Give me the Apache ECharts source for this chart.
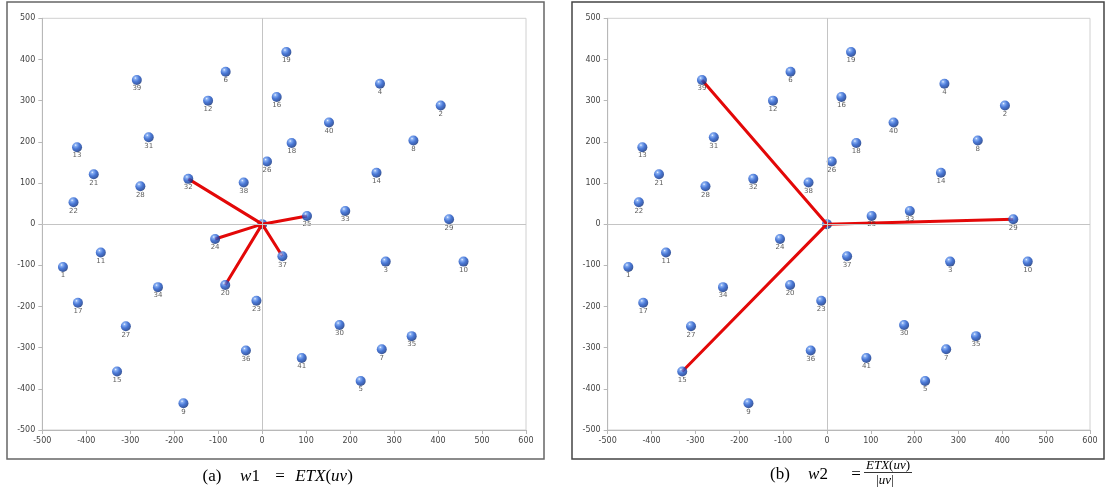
<!DOCTYPE html>
<html>
<head>
<meta charset="utf-8">
<script src="https://cdn.jsdelivr.net/npm/echarts@6/dist/echarts.min.js"></script>
<style>html,body{margin:0;padding:0;background:#fff}#c{width:1106px;height:494px}</style>
</head>
<body>
<div id="c"></div>
<script>
// ---- data ----
const nodeIds = [1,2,3,4,5,6,7,8,9,10,11,12,13,14,15,16,17,18,19,20,21,22,23,24,25,26,27,28,29,30,31,32,33,34,35,36,37,38,39,40,41];
const nodeX = [-453,406,281,268,224,-83,272,344,-179,458,-367,-123,-421,260,-330,33,-419,67,55,-84,-383,-429,-13,-107,102,11,-310,-277,425,176,-258,-168,189,-237,340,-37,46,-42,-285,152,90];
const nodeY = [-104,288,-91,341,-381,370,-304,203,-435,-91,-69,300,187,125,-358,309,-191,197,418,-148,121,53,-186,-36,20,152,-248,92,12,-245,211,110,32,-153,-272,-307,-78,101,350,247,-325];
const centerNode = [0, 0];
const edgesA = [32, 24, 20, 37, 25];   // panel (a) w1 = ETX(uv)
const edgesB = [39, 15, 29];           // panel (b) w2 = ETX(uv)/|uv|
const xTicks = [-500,-400,-300,-200,-100,0,100,200,300,400,500,600];
const yTicks = [-500,-400,-300,-200,-100,0,100,200,300,400,500];

// ---- build ----
const nodes = nodeIds.map((id, i) => ({ value: [nodeX[i], nodeY[i]], name: String(id) }));
function edgeData(list) {
  const d = [];
  list.forEach(id => {
    const i = nodeIds.indexOf(id);
    d.push(centerNode.slice());
    d.push([nodeX[i], nodeY[i]]);
  });
  return d;
}
const sphere = {
  type: 'radial', x: 0.36, y: 0.3, r: 0.75,
  colorStops: [
    { offset: 0, color: '#eef4ff' },
    { offset: 0.16, color: '#6d9df0' },
    { offset: 0.5, color: '#1d57cc' },
    { offset: 0.85, color: '#0c3591' },
    { offset: 1, color: '#08245f' }
  ]
};
const axisCommon = {
  type: 'value', interval: 100,
  axisLine: { show: true, onZero: false, lineStyle: { color: '#b8b8b8', width: 1 } },
  axisTick: { show: true, length: 4, lineStyle: { color: '#b8b8b8' } },
  splitLine: { show: false },
  axisLabel: { fontFamily: 'DejaVu Sans', fontSize: 8, color: '#444' }
};
function xAx(gi) {
  return Object.assign({}, axisCommon, { gridIndex: gi, min: xTicks[0], max: xTicks[xTicks.length-1],
    axisLabel: Object.assign({}, axisCommon.axisLabel, { margin: 7 }) });
}
function yAx(gi) {
  return Object.assign({}, axisCommon, { gridIndex: gi, min: yTicks[0], max: yTicks[yTicks.length-1],
    axisLabel: Object.assign({}, axisCommon.axisLabel, { margin: 7 }) });
}
function panelSeries(gi, edges) {
  return [
    {
      type: 'scatter', xAxisIndex: gi, yAxisIndex: gi, z: 1,
      data: [centerNode], symbol: 'circle', symbolSize: 10,
      itemStyle: { color: sphere }, silent: true,
      markLine: {
        silent: true, symbol: 'none', animation: false,
        label: { show: false },
        lineStyle: { color: '#c4c4c4', width: 1, type: 'solid' },
        data: [{ xAxis: 0 }, { yAxis: 0 }]
      }
    },
    {
      type: 'line', xAxisIndex: gi, yAxisIndex: gi, z: 2,
      data: edgeData(edges), showSymbol: false, symbol: 'none',
      lineStyle: { color: '#e30808', width: 3 }, silent: true, animation: false
    },
    {
      type: 'scatter', xAxisIndex: gi, yAxisIndex: gi, z: 3,
      data: nodes, symbol: 'circle', symbolSize: 10,
      itemStyle: { color: sphere },
      label: { show: true, position: 'bottom', distance: 0, formatter: '{b}',
        fontFamily: 'DejaVu Sans', fontSize: 7, color: '#333' },
      animation: false
    }
  ];
}
const serif = 'Liberation Serif';
const rich = {
  n: { fontFamily: serif, fontSize: 17, color: '#000' },
  i: { fontFamily: serif, fontSize: 17, fontStyle: 'italic', color: '#000' },
  sn: { fontFamily: serif, fontSize: 13, color: '#000' },
  si: { fontFamily: serif, fontSize: 13, fontStyle: 'italic', color: '#000' }
};
function cap(x, y, text) {
  return { type: 'text', x: x, y: y, silent: true,
    style: { text: text, rich: rich, align: 'center', verticalAlign: 'middle' } };
}
const option = {
  animation: false,
  backgroundColor: '#fff',
  grid: [
    { left: 42.3, right: 580, top: 18.3, bottom: 64, show: true, borderColor: '#d0d0d0', borderWidth: 1, backgroundColor: 'transparent' },
    { left: 607.7, right: 16, top: 18.3, bottom: 64, show: true, borderColor: '#d0d0d0', borderWidth: 1, backgroundColor: 'transparent' }
  ],
  xAxis: [xAx(0), xAx(1)],
  yAxis: [yAx(0), yAx(1)],
  series: panelSeries(0, edgesA).concat(panelSeries(1, edgesB)),
  graphic: [
    { type: 'rect', shape: { x: 7, y: 2, width: 537, height: 457 }, style: { fill: 'none', stroke: '#666', lineWidth: 1.5 }, silent: true },
    { type: 'rect', shape: { x: 572, y: 2, width: 532, height: 457 }, style: { fill: 'none', stroke: '#444', lineWidth: 1.5 }, silent: true },
    // caption (a)
    cap(212, 476.5, '{n|(a)}'),
    cap(250, 476.5, '{i|w}{n|1}'),
    cap(280, 476.5, '{n|=}'),
    cap(324, 476.5, '{i|ETX}{n|(}{i|uv}{n|)}'),
    // caption (b)
    cap(780, 475, '{n|(b)}'),
    cap(818, 475, '{i|w}{n|2}'),
    cap(856, 475, '{n|=}'),
    cap(888, 466, '{si|ETX}{sn|(}{si|uv}{sn|)}'),
    { type: 'line', shape: { x1: 864, y1: 472.5, x2: 912, y2: 472.5 }, style: { stroke: '#000', lineWidth: 0.8 }, silent: true },
    cap(885, 480.5, '{sn||}{si|uv}{sn||}')
  ]
};
const chart = echarts.init(document.getElementById('c'), null, { renderer: 'canvas' });
chart.setOption(option);
</script>
</body>
</html>
